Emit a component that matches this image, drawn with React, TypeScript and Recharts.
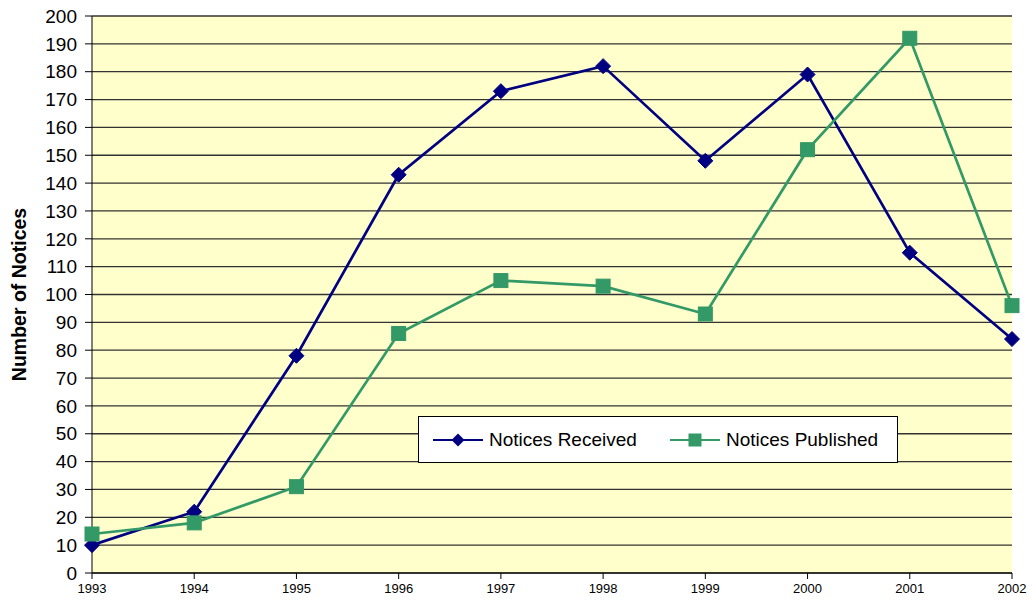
import { LineChart, Line, XAxis, YAxis, CartesianGrid } from "recharts";

const years = ["1993", "1994", "1995", "1996", "1997", "1998", "1999", "2000", "2001", "2002"];
const received = [10, 22, 78, 143, 173, 182, 148, 179, 115, 84];
const published = [14, 18, 31, 86, 105, 103, 93, 152, 192, 96];
const yTicks = [0, 10, 20, 30, 40, 50, 60, 70, 80, 90, 100, 110, 120, 130, 140, 150, 160, 170, 180, 190, 200];
const seriesNames = ["Notices Received", "Notices Published"];

const data = years.map((year, i) => ({ year, received: received[i], published: published[i] }));

const NAVY = "#000080";
const GREEN = "#339966";
const FONT = "'Liberation Sans', Arial, sans-serif";

function Diamond(props: any) {
  const { cx, cy } = props;
  if (cx == null || cy == null) return null;
  const r = 7.5;
  return <path d={`M${cx},${cy - r}L${cx + r},${cy}L${cx},${cy + r}L${cx - r},${cy}Z`} fill={NAVY} stroke={NAVY} strokeWidth={1} />;
}

function Square(props: any) {
  const { cx, cy } = props;
  if (cx == null || cy == null) return null;
  const s = 7;
  return <rect x={cx - s} y={cy - s} width={s * 2} height={s * 2} fill={GREEN} stroke={GREEN} strokeWidth={1} />;
}

// legend drawn as a plain box over the plot, like the original
function LegendBox() {
  const colors = [NAVY, GREEN];
  const lefts = [13, 250];
  return (
    <div
      style={{
        position: "absolute",
        left: 418,
        top: 416,
        width: 480,
        height: 47,
        background: "#fff",
        border: "1px solid #000",
        fontFamily: FONT,
        fontSize: 19,
        color: "#000",
        boxSizing: "border-box",
      }}
    >
      {seriesNames.map((name, i) => (
        <div
          key={name}
          style={{ position: "absolute", left: lefts[i], top: 0, height: 45, display: "flex", alignItems: "center", whiteSpace: "nowrap" }}
        >
          <svg width={52} height={16} style={{ marginRight: 5, flexShrink: 0 }}>
            <line x1={1} y1={8} x2={51} y2={8} stroke={colors[i]} strokeWidth={2} />
            {i === 0 ? (
              <path d="M26,1.5L32.5,8L26,14.5L19.5,8Z" fill={NAVY} />
            ) : (
              <rect x={19.5} y={1.5} width={13} height={13} fill={GREEN} />
            )}
          </svg>
          <span>{name}</span>
        </div>
      ))}
    </div>
  );
}

export default function App() {
  return (
    <div style={{ position: "absolute", left: 0, top: 0, width: 1033, height: 606, background: "#fff" }}>
      <LineChart width={1033} height={606} data={data} margin={{ top: 16, right: 21, bottom: 0, left: 0 }}>
        <CartesianGrid vertical={false} fill="#FFFFCC" stroke="#333" strokeWidth={1.3} />
        <XAxis
          dataKey="year"
          padding={{ left: 0, right: 0 }}
          stroke="#000"
          tickSize={6}
          tickMargin={5}
          height={33}
          tick={{ fill: "#000", fontSize: 13, fontFamily: FONT }}
          interval={0}
        />
        <YAxis
          domain={[0, 200]}
          ticks={yTicks}
          interval={0}
          width={92}
          stroke="#000"
          tickSize={7}
          tickMargin={8}
          tick={{ fill: "#000", fontSize: 19, fontFamily: FONT }}
          label={{
            value: "Number of Notices",
            angle: -90,
            position: "insideLeft",
            offset: 19,
            style: { textAnchor: "middle", fontWeight: "bold", fontSize: 19.5, fontFamily: FONT, fill: "#000" },
          }}
        />
        <Line
          dataKey="received"
          name={seriesNames[0]}
          stroke={NAVY}
          strokeWidth={2.7}
          dot={<Diamond />}
          activeDot={false}
          isAnimationActive={false}
        />
        <Line
          dataKey="published"
          name={seriesNames[1]}
          stroke={GREEN}
          strokeWidth={2.7}
          dot={<Square />}
          activeDot={false}
          isAnimationActive={false}
        />
      </LineChart>
      <LegendBox />
    </div>
  );
}
